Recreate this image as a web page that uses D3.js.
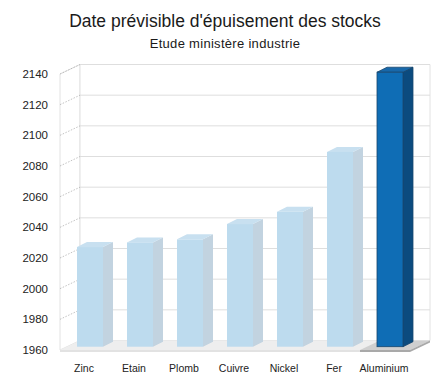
<!DOCTYPE html>
<html>
<head>
<meta charset="utf-8">
<script src="https://cdn.jsdelivr.net/npm/d3@7"></script>
<style>
  body { margin: 0; background: #fff; }
  svg { display: block; font-family: "Liberation Sans", Arial, sans-serif; }
</style>
</head>
<body>
<div id="chart"></div>
<script>
// Data
const metals = ["Zinc", "Etain", "Plomb", "Cuivre", "Nickel", "Fer", "Aluminium"];
const years = [2025, 2028, 2030, 2040, 2048, 2087, 2139];
const yTicks = [1960, 1980, 2000, 2020, 2040, 2060, 2080, 2100, 2120, 2140];
const highlighted = "Aluminium";

const width = 433, height = 374;

const svg = d3.select("#chart")
    .append("svg")
    .attr("width", width)
    .attr("height", height);

// Scales (front plane of the 3D box)
const xScale = d3.scaleBand()
    .domain(metals)
    .range([60, 410]);

const yScale = d3.scaleLinear()
    .domain([1960, 2140])
    .range([350, 74]);

// 3D offsets
const wallDx = 20, wallDy = -9.5;
const barDx = 10, barDy = -5;
const barOffX = 17, barOffY = -3.3, barW = 26;

// Title
svg.append("text")
    .attr("x", 225)
    .attr("y", 27)
    .attr("text-anchor", "middle")
    .style("font-size", "17.5px")
    .style("fill", "#1a1a1a")
    .text("Date prévisible d'épuisement des stocks");

svg.append("text")
    .attr("x", 225)
    .attr("y", 47.5)
    .attr("text-anchor", "middle")
    .style("font-size", "13px")
    .style("letter-spacing", "0.3px")
    .style("fill", "#1a1a1a")
    .text("Etude ministère industrie");

const x0 = xScale.range()[0], x1 = xScale.range()[1];
const yb = yScale(1960), yt = yScale(2140);

// Left side wall
svg.append("path")
    .attr("d", `M${x0},${yb}L${x0 + wallDx},${yb + wallDy}L${x0 + wallDx},${yt + wallDy}L${x0},${yt}Z`)
    .attr("fill", "#fff")
    .attr("stroke", "#e2e2e2")
    .attr("stroke-width", 1);

// Back wall
svg.append("path")
    .attr("d", `M${x0 + wallDx},${yb + wallDy}L${x1 + wallDx},${yb + wallDy}L${x1 + wallDx},${yt + wallDy}L${x0 + wallDx},${yt + wallDy}Z`)
    .attr("fill", "#fff")
    .attr("stroke", "#e2e2e2")
    .attr("stroke-width", 1);

// Gridlines on back wall
svg.selectAll(".grid")
    .data(yTicks.slice(1))
    .enter()
    .append("line")
    .attr("class", "grid")
    .attr("x1", x0 + wallDx)
    .attr("x2", x1 + wallDx)
    .attr("y1", d => yScale(d) + wallDy)
    .attr("y2", d => yScale(d) + wallDy)
    .attr("stroke", "#dedede")
    .attr("stroke-width", 1);

// Dashed gridlines on side wall
svg.selectAll(".sidegrid")
    .data(yTicks.slice(1))
    .enter()
    .append("line")
    .attr("class", "sidegrid")
    .attr("x1", x0)
    .attr("x2", x0 + wallDx)
    .attr("y1", d => yScale(d))
    .attr("y2", d => yScale(d) + wallDy)
    .attr("stroke", "#a8a8a8")
    .attr("stroke-width", 0.7)
    .attr("stroke-dasharray", "1.5,1.5");

// Floor
svg.append("path")
    .attr("d", `M${x0},${yb}L${x1},${yb}L${x1 + wallDx},${yb + wallDy}L${x0 + wallDx},${yb + wallDy}Z`)
    .attr("fill", "#eeeeee");

svg.append("path")
    .attr("d", `M${x0},${yb}L${x1},${yb}L${x1},${yb + 2}L${x0},${yb + 2}Z`)
    .attr("fill", "#e2e2e2");

// Highlighted floor segment
const hx = xScale(highlighted), bw = xScale.bandwidth();
svg.append("path")
    .attr("d", `M${hx},${yb}L${hx + bw},${yb}L${hx + bw + wallDx},${yb + wallDy}L${hx + wallDx},${yb + wallDy}Z`)
    .attr("fill", "#cfcfcf");
svg.append("path")
    .attr("d", `M${hx},${yb}L${hx + bw},${yb}L${hx + bw + wallDx},${yb + wallDy}L${hx + bw + wallDx},${yb + wallDy + 2}L${hx + bw},${yb + 2}L${hx},${yb + 2}Z`)
    .attr("fill", "#a9a9a9");

// Y axis labels
svg.selectAll(".ylabel")
    .data(yTicks)
    .enter()
    .append("text")
    .attr("class", "ylabel")
    .attr("x", 48)
    .attr("y", d => yScale(d))
    .attr("dy", "0.35em")
    .attr("text-anchor", "end")
    .style("font-size", "11.5px")
    .style("fill", "#222")
    .text(d => d);

// Bars
const data = metals.map((m, i) => ({ name: m, value: years[i] }));

const bars = svg.selectAll(".bar")
    .data(data)
    .enter()
    .append("g")
    .attr("class", "bar");

const colorsFor = d => d.name === highlighted
    ? { front: "#0f6db5", side: "#0b4b7f", top: "#1868aa", stroke: "#17466e" }
    : { front: "#bddbee", side: "#c2d3e0", top: "#c8e0f0", stroke: "none" };

bars.each(function (d) {
    const g = d3.select(this);
    const c = colorsFor(d);
    const bx = xScale(d.name) + barOffX;
    const by0 = yScale(1960) + barOffY;
    const by1 = yScale(d.value) + barOffY;

    // side face
    g.append("path")
        .attr("d", `M${bx + barW},${by0}L${bx + barW + barDx},${by0 + barDy}L${bx + barW + barDx},${by1 + barDy}L${bx + barW},${by1}Z`)
        .attr("fill", c.side)
        .attr("stroke", c.stroke)
        .attr("stroke-width", 0.8);
    // top face
    g.append("path")
        .attr("d", `M${bx},${by1}L${bx + barW},${by1}L${bx + barW + barDx},${by1 + barDy}L${bx + barDx},${by1 + barDy}Z`)
        .attr("fill", c.top)
        .attr("stroke", c.stroke)
        .attr("stroke-width", 0.8);
    // front face
    g.append("rect")
        .attr("x", bx)
        .attr("y", by1)
        .attr("width", barW)
        .attr("height", by0 - by1)
        .attr("fill", c.front)
        .attr("stroke", c.stroke)
        .attr("stroke-width", 0.8);
});

// X labels
svg.selectAll(".xlabel")
    .data(metals)
    .enter()
    .append("text")
    .attr("class", "xlabel")
    .attr("x", d => xScale(d) + xScale.bandwidth() / 2 - 1)
    .attr("y", 372)
    .attr("text-anchor", "middle")
    .style("font-size", "10.5px")
    .style("fill", "#222")
    .text(d => d);
</script>
</body>
</html>
